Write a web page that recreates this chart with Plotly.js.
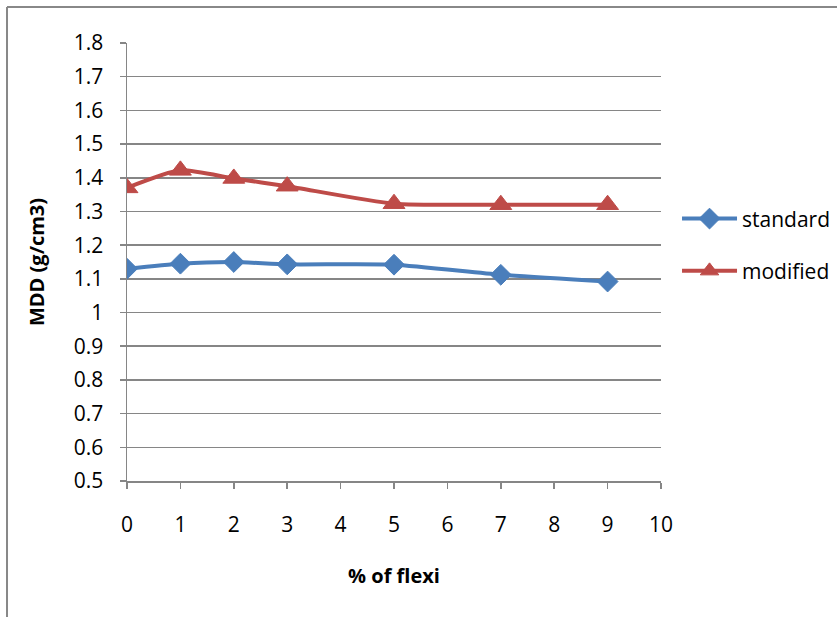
<!DOCTYPE html>
<html><head><meta charset="utf-8">
<script src="https://cdn.plot.ly/plotly-3.0.1.min.js"></script>
<style>html,body{margin:0;padding:0;background:#fff}#chart{width:837px;height:617px}</style>
</head><body><div id="chart"></div>
<script>
var xValues = [0, 1, 2, 3, 5, 7, 9];
var standardValues = [1.13, 1.145, 1.15, 1.143, 1.142, 1.112, 1.092];
var modifiedValues = [1.37, 1.422, 1.398, 1.375, 1.323, 1.32, 1.32];
var seriesNames = ['standard', 'modified'];

var fontFam = '"Open Sans", Lato, sans-serif';
var traces = [
  {x: xValues, y: standardValues, name: seriesNames[0], legendgroup: 'a', type: 'scatter', mode: 'lines+markers',
   line: {color: '#4a7ebb', width: 4, shape: 'spline', smoothing: 0.6},
   marker: {symbol: 'diamond', size: 16, color: '#4a7ebb', line: {color: '#4a7ebb', width: 1}}},
  {x: xValues, y: modifiedValues, name: seriesNames[1], legendgroup: 'b', type: 'scatter', mode: 'lines+markers',
   line: {color: '#be4b48', width: 4, shape: 'spline', smoothing: 0.6},
   marker: {symbol: 'triangle-up', size: 19, color: '#be4b48', line: {color: '#be4b48', width: 1}}}
];
var layout = {
  width: 837, height: 617,
  margin: {l: 127, r: 176, t: 43, b: 136, autoexpand: false},
  paper_bgcolor: '#fff', plot_bgcolor: '#fff',
  font: {family: fontFam, size: 21, color: '#000'},
  showlegend: true,
  legend: {x: 1.03, y: 0.539, xanchor: 'left', yanchor: 'middle', font: {size: 21},
           itemwidth: 55, tracegroupgap: 22, bgcolor: 'rgba(0,0,0,0)'},
  xaxis: {range: [0, 10], dtick: 1, tick0: 0, showgrid: false, zeroline: false,
          showline: true, linecolor: '#868686', linewidth: 1.5,
          ticks: 'outside', ticklen: 6, tickcolor: '#868686', tickwidth: 1.5,
          ticklabelstandoff: 18,
          title: {text: '<b>% of flexi</b>', font: {size: 20}, standoff: 32}},
  yaxis: {range: [0.5, 1.8], dtick: 0.1, tick0: 0.5, showgrid: true, gridcolor: '#868686', gridwidth: 1.5,
          zeroline: false, showline: true, linecolor: '#868686', linewidth: 1.5,
          ticks: 'outside', ticklen: 6, tickcolor: '#868686', tickwidth: 1.5,
          ticklabelstandoff: 12,
          title: {text: '<b>MDD (g/cm3)</b>', font: {size: 20}, standoff: 24}},
  shapes: [
    {type: 'line', xref: 'paper', yref: 'paper', x0: -0.2247, x1: -0.2247, y0: 1.0822, y1: -0.35,
     line: {color: '#888', width: 2}},
    {type: 'line', xref: 'paper', yref: 'paper', x0: -0.2247, x1: 1.4, y0: 1.0822, y1: 1.0822,
     line: {color: '#888', width: 2}}
  ]
};
Plotly.newPlot('chart', traces, layout, {displayModeBar: false, staticPlot: true});
</script></body></html>
